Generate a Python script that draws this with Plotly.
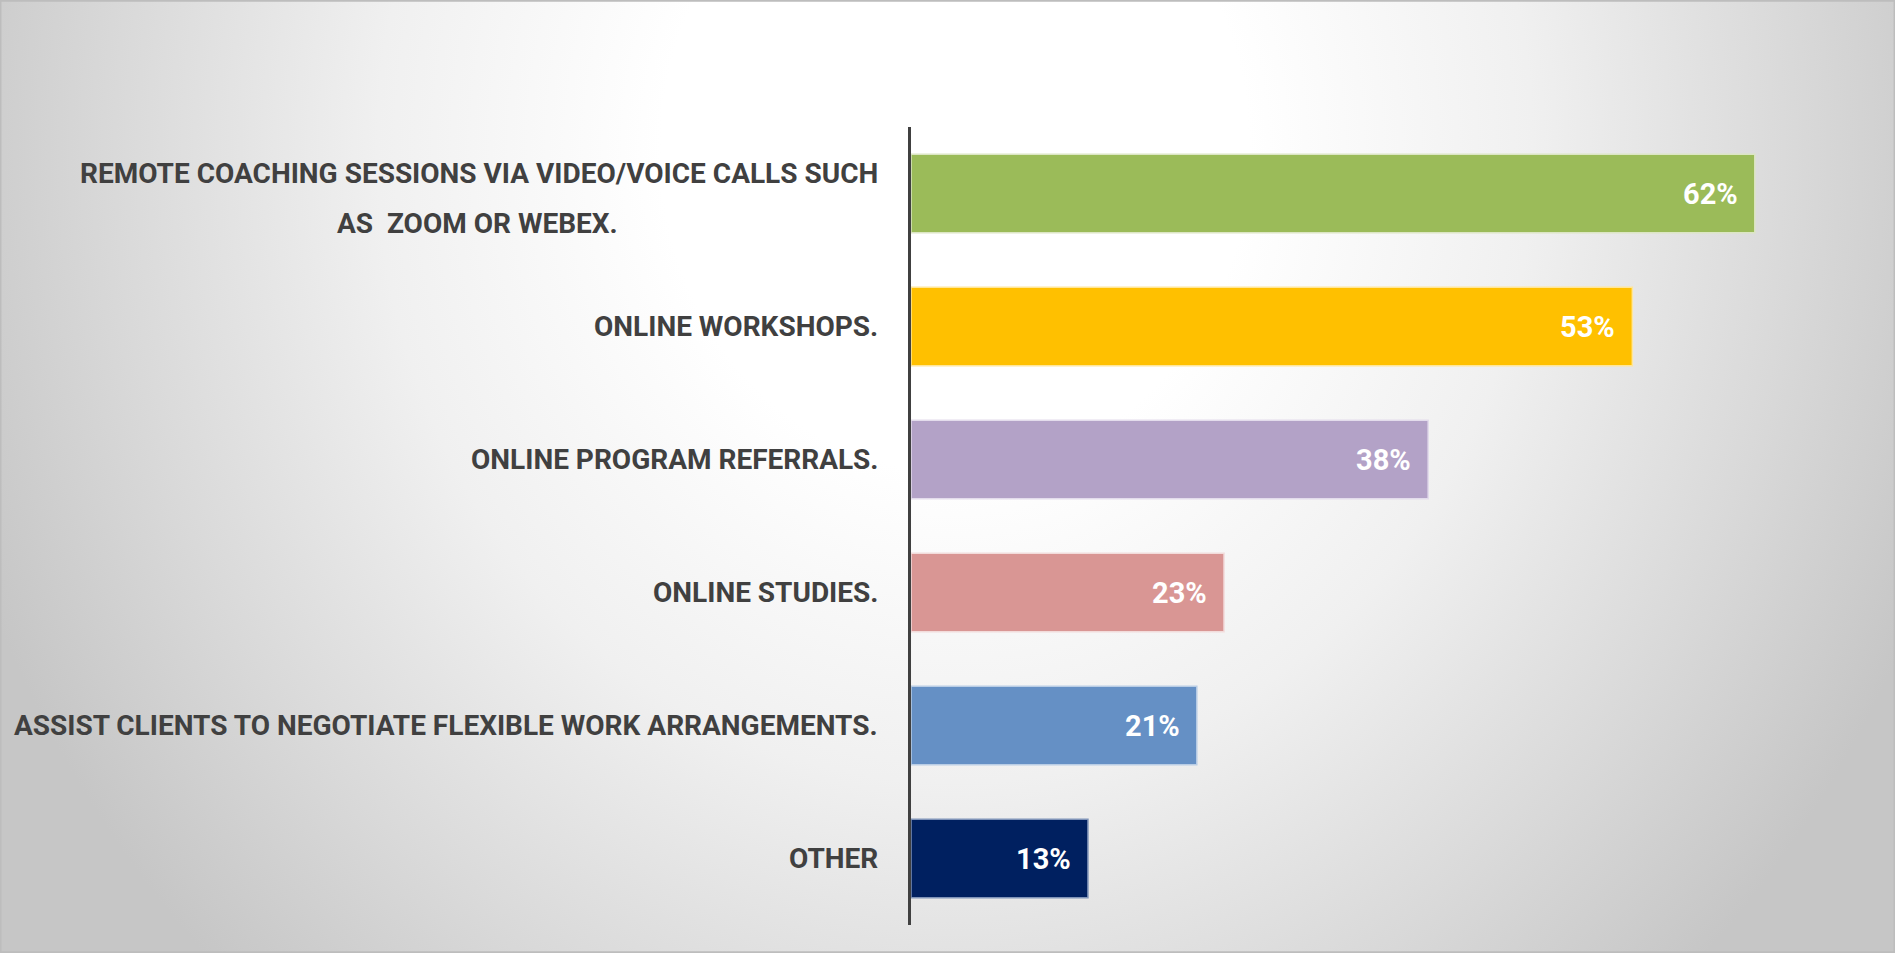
import base64
import plotly.graph_objects as go

# data
categories = [
    "REMOTE COACHING SESSIONS VIA VIDEO/VOICE CALLS SUCH AS  ZOOM OR WEBEX.",
    "ONLINE WORKSHOPS.",
    "ONLINE PROGRAM REFERRALS.",
    "ONLINE STUDIES.",
    "ASSIST CLIENTS TO NEGOTIATE FLEXIBLE WORK ARRANGEMENTS.",
    "OTHER",
]
label_lines = [
    ["REMOTE COACHING SESSIONS VIA VIDEO/VOICE CALLS SUCH", "AS\u00a0 ZOOM OR WEBEX."],
    ["ONLINE WORKSHOPS."],
    ["ONLINE PROGRAM REFERRALS."],
    ["ONLINE STUDIES."],
    ["ASSIST CLIENTS TO NEGOTIATE FLEXIBLE WORK ARRANGEMENTS."],
    ["OTHER"],
]
values = [62, 53, 38, 23, 21, 13]

bar_colors = ["#9BBB59", "#FFC000", "#B3A2C7", "#D99694", "#6590C5", "#002060"]
edge_colors = ["#DCE6C4", "#FFE699", "#E3DCEC", "#F2DCDB", "#B9CDE5", "#7F93B8"]

FONT = "Roboto, sans-serif"
W, H = 1895, 953
ml, mr, mt, mb = 911, 59, 127, 28
pw = W - ml - mr
ph = H - mt - mb

fig = go.Figure(
    go.Bar(
        x=values,
        y=categories,
        orientation="h",
        width=0.59,
        marker=dict(color=bar_colors, line=dict(color=edge_colors, width=1.5)),
        hoverinfo="skip",
    )
)

annotations = []
for cat, lines in zip(categories, label_lines):
    lab_font = dict(family=FONT, size=28, color="#404040", weight="bold")
    if len(lines) == 1:
        annotations.append(dict(xref="paper", yref="y", x=0, y=cat, text=lines[0],
                                xanchor="right", yanchor="middle", xshift=-31,
                                showarrow=False, font=lab_font))
    else:
        annotations.append(dict(xref="paper", yref="y", x=0, y=cat, text=lines[0],
                                xanchor="right", yanchor="middle", xshift=-31, yshift=20,
                                showarrow=False, font=lab_font))
        # second line centred under the first
        annotations.append(dict(xref="paper", yref="y", x=(477 - ml) / pw, y=cat, text=lines[1],
                                xanchor="center", yanchor="middle", yshift=-30,
                                showarrow=False, font=lab_font))

for cat, v in zip(categories, values):
    annotations.append(dict(xref="x", yref="y", x=v, y=cat, text=f"{v}%",
                            xanchor="right", yanchor="middle", xshift=-15,
                            showarrow=False,
                            font=dict(family=FONT, size=29, color="white", weight="bold")))

# radial gradient background as an svg image
svg = (
    f"<svg xmlns='http://www.w3.org/2000/svg' width='{W}' height='{H}' viewBox='0 0 {W} {H}' "
    "preserveAspectRatio='none'><defs>"
    "<radialGradient id='g' gradientUnits='userSpaceOnUse' cx='955' cy='150' r='1050' "
    "gradientTransform='translate(955 150) scale(1 1.095) translate(-955 -150)'>"
    "<stop offset='0' stop-color='#ffffff'/><stop offset='0.28' stop-color='#ffffff'/>"
    "<stop offset='0.55' stop-color='#f0f0f0'/><stop offset='0.8' stop-color='#d9d9d9'/>"
    "<stop offset='1' stop-color='#c6c6c6'/></radialGradient></defs>"
    "<rect width='100%' height='100%' fill='url(#g)'/></svg>"
)
bg_src = "data:image/svg+xml;base64," + base64.b64encode(svg.encode()).decode()

fig.update_layout(
    width=W,
    height=H,
    margin=dict(l=ml, r=mr, t=mt, b=mb, pad=0),
    paper_bgcolor="#d9d9d9",
    plot_bgcolor="rgba(0,0,0,0)",
    showlegend=False,
    xaxis=dict(range=[0, pw / 13.61], visible=False, fixedrange=True),
    yaxis=dict(
        categoryorder="array",
        categoryarray=categories,
        autorange="reversed",
        showticklabels=False,
        ticks="",
        showgrid=False,
        zeroline=False,
        showline=True,
        linecolor="#404040",
        linewidth=3,
        fixedrange=True,
    ),
    annotations=annotations,
    images=[dict(
        source=bg_src, xref="paper", yref="paper",
        x=-ml / pw, y=1 + mt / ph, sizex=W / pw, sizey=H / ph,
        xanchor="left", yanchor="top", sizing="stretch", layer="below",
    )],
    shapes=[dict(
        type="rect", xref="paper", yref="paper",
        x0=-ml / pw + 0.0005, x1=(W - ml) / pw - 0.0005,
        y0=-mb / ph + 0.001, y1=1 + mt / ph - 0.001,
        line=dict(color="#bdbdbd", width=2), layer="above",
    )],
)

fig.write_html(
    "out.html",
    config={"displayModeBar": False},
    post_script="document.body.style.margin='0';document.body.style.overflow='hidden';",
)
